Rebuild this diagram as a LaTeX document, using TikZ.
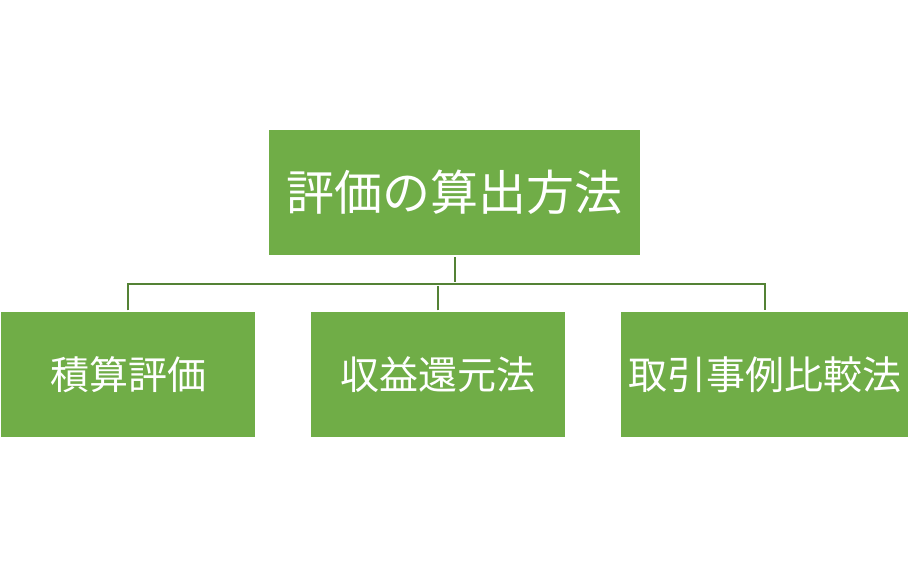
\documentclass[tikz,border=0pt]{standalone}
\usepackage{fontspec}
\setmainfont{Noto Sans CJK JP}
\definecolor{boxgreen}{HTML}{70AD47}
\definecolor{linegreen}{HTML}{548235}
\tikzset{
  box/.style={fill=boxgreen, text=white, inner sep=0pt, minimum height=125pt},
  link/.style={draw=linegreen, line width=2pt, shorten <=2pt, shorten >=2pt},
}
\begin{document}
\begin{tikzpicture}[x=1pt,y=1pt]
                \useasboundingbox (0,0) rectangle (909,567);
                \node[box, minimum width=371pt, font=\fontsize{48}{52}\selectfont] (method) at (454.5,374.5) {評価の算出方法};
                \node[box, minimum width=254pt, font=\fontsize{39}{44}\selectfont] (cost) at (128,192) {積算評価};
                \node[box, minimum width=254pt, font=\fontsize{39}{44}\selectfont] (income) at (438,192) {収益還元法};
                \node[box, minimum width=287pt, font=\fontsize{39}{44}\selectfont] (comparison) at (764.5,192) {取引事例比較法};
                \coordinate (bus) at (0,283);
                \draw[link] (method.south) -- (method.south |- bus);
                \draw[link] (cost.north) -- (cost.north |- bus)
                    -- (comparison.north |- bus) -- (comparison.north);
                \draw[link] (income.north) -- (income.north |- bus);
            \end{tikzpicture}
\end{document}
